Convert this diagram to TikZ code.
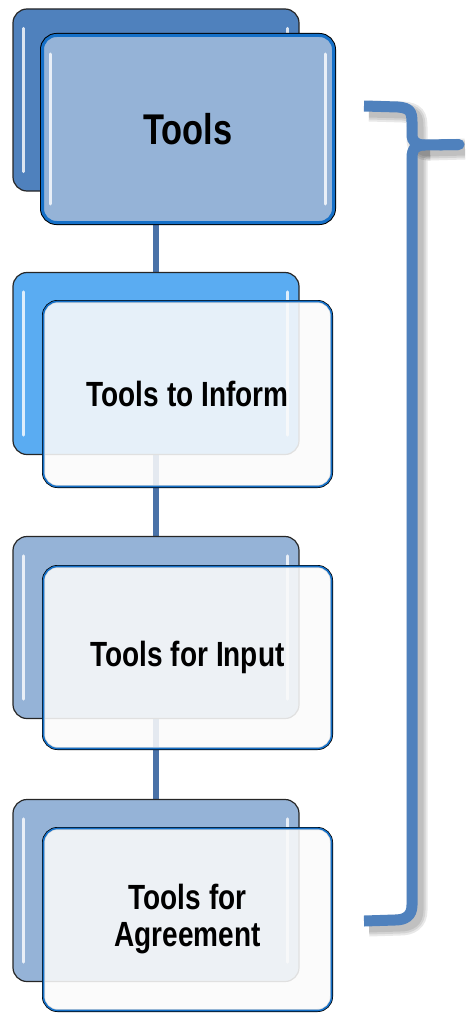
\documentclass[tikz,border=0pt]{standalone}
\usepackage{fontspec}
\newfontfamily\lab{Liberation Sans}[FakeStretch=0.8]
\usetikzlibrary{calc}
\definecolor{backA}{HTML}{4F81BD}
\definecolor{backB}{HTML}{5AACF2}
\definecolor{backC}{HTML}{95B3D7}
\definecolor{frontA}{HTML}{95B3D7}
\definecolor{edgeblue}{HTML}{1570C8}
\definecolor{conn}{HTML}{4A72A8}
\definecolor{bracecol}{HTML}{4F81BD}
\tikzset{
  backbox/.style={draw=black!85, line width=1.2pt, rounded corners=14pt,
    minimum width=286pt, minimum height=182pt, inner sep=0pt},
  frontmain/.style={preaction={draw=black, line width=5pt}, draw=edgeblue, line width=3pt,
    fill=frontA, rounded corners=14pt, minimum width=291pt, minimum height=187pt,
    inner sep=0pt, font=\lab\bfseries\fontsize{43}{46}\selectfont},
  frontsub/.style={preaction={draw=black, line width=3pt}, draw=edgeblue, line width=1.6pt,
    fill=black!2, fill opacity=0.88, text opacity=1, rounded corners=14pt,
    minimum width=288pt, inner sep=0pt, align=center,
    font=\lab\bfseries\fontsize{35}{37}\selectfont},
  gloss/.style={white, opacity=0.8, line width=3pt, line cap=round},
  connline/.style={conn, line width=6pt},
  bracestroke/.style={bracecol, line width=11pt},
  braceshadow/.style={black, line width=#1, opacity=0.09}
}
\begin{document}
\begin{tikzpicture}[x=1pt,y=-1pt]
\useasboundingbox (0,0) rectangle (467,1014);
\path (156,100) coordinate (c1) (156,363.5) coordinate (c2) (156,627.5) coordinate (c3) (156,890.5) coordinate (c4);
% connector behind everything
\draw[connline] (c1) -- (c4);
% back boxes
\node[backbox, fill=backA] (back1) at (c1) {};
\node[backbox, fill=backB] (back2) at (c2) {};
\node[backbox, fill=backC] (back3) at (c3) {};
\node[backbox, fill=backC] (back4) at (c4) {};
\foreach \b in {back1,back2,back3,back4}{
  \draw[gloss] ($(\b.north west)+(11,20)$) -- ($(\b.south west)+(11,-20)$);
  \draw[gloss] ($(\b.north east)+(-12,20)$) -- ($(\b.south east)+(-12,-20)$);
}
% front boxes
\node[frontmain] (front1) at (188,129) {Tools};
\draw[gloss] ($(front1.north west)+(9,20)$) -- ($(front1.south west)+(9,-20)$);
\draw[gloss] ($(front1.north east)+(-10,20)$) -- ($(front1.south east)+(-10,-20)$);
\node[frontsub, minimum height=185pt] (front2) at (187.5,394) {Tools to Inform};
\node[frontsub, minimum height=182pt] (front3) at (187.5,657.5) {Tools for Input};
\node[frontsub, minimum height=182pt] (front4) at (187.5,919.5) {Tools for\\Agreement};
% brace shadow
\foreach \w in {21pt,17pt,13pt}{
\begin{scope}[shift={(5,5)}]
\draw[braceshadow=\w] (364,106) -- (398,107) .. controls (410,108) and (412,112) .. (412,122) -- (412,134) .. controls (412,142) and (416,145) .. (425,145) -- (460,144);
\draw[braceshadow=\w] (425,145) .. controls (416,145) and (412,148) .. (412,158) -- (412,905) .. controls (412,916) and (405,920) .. (395,920) -- (364,921);
\end{scope}}
% brace
\draw[bracestroke] (364,106) -- (398,107) .. controls (410,108) and (412,112) .. (412,122) -- (412,134) .. controls (412,142) and (416,145) .. (425,145) -- (458,144.5);
\draw[bracestroke, line cap=round] (440,144.8) -- (459,144.5);
\draw[bracestroke] (425,145) .. controls (416,145) and (412,148) .. (412,158) -- (412,905) .. controls (412,916) and (405,920) .. (395,920) -- (364,921);
\end{tikzpicture}
\end{document}
